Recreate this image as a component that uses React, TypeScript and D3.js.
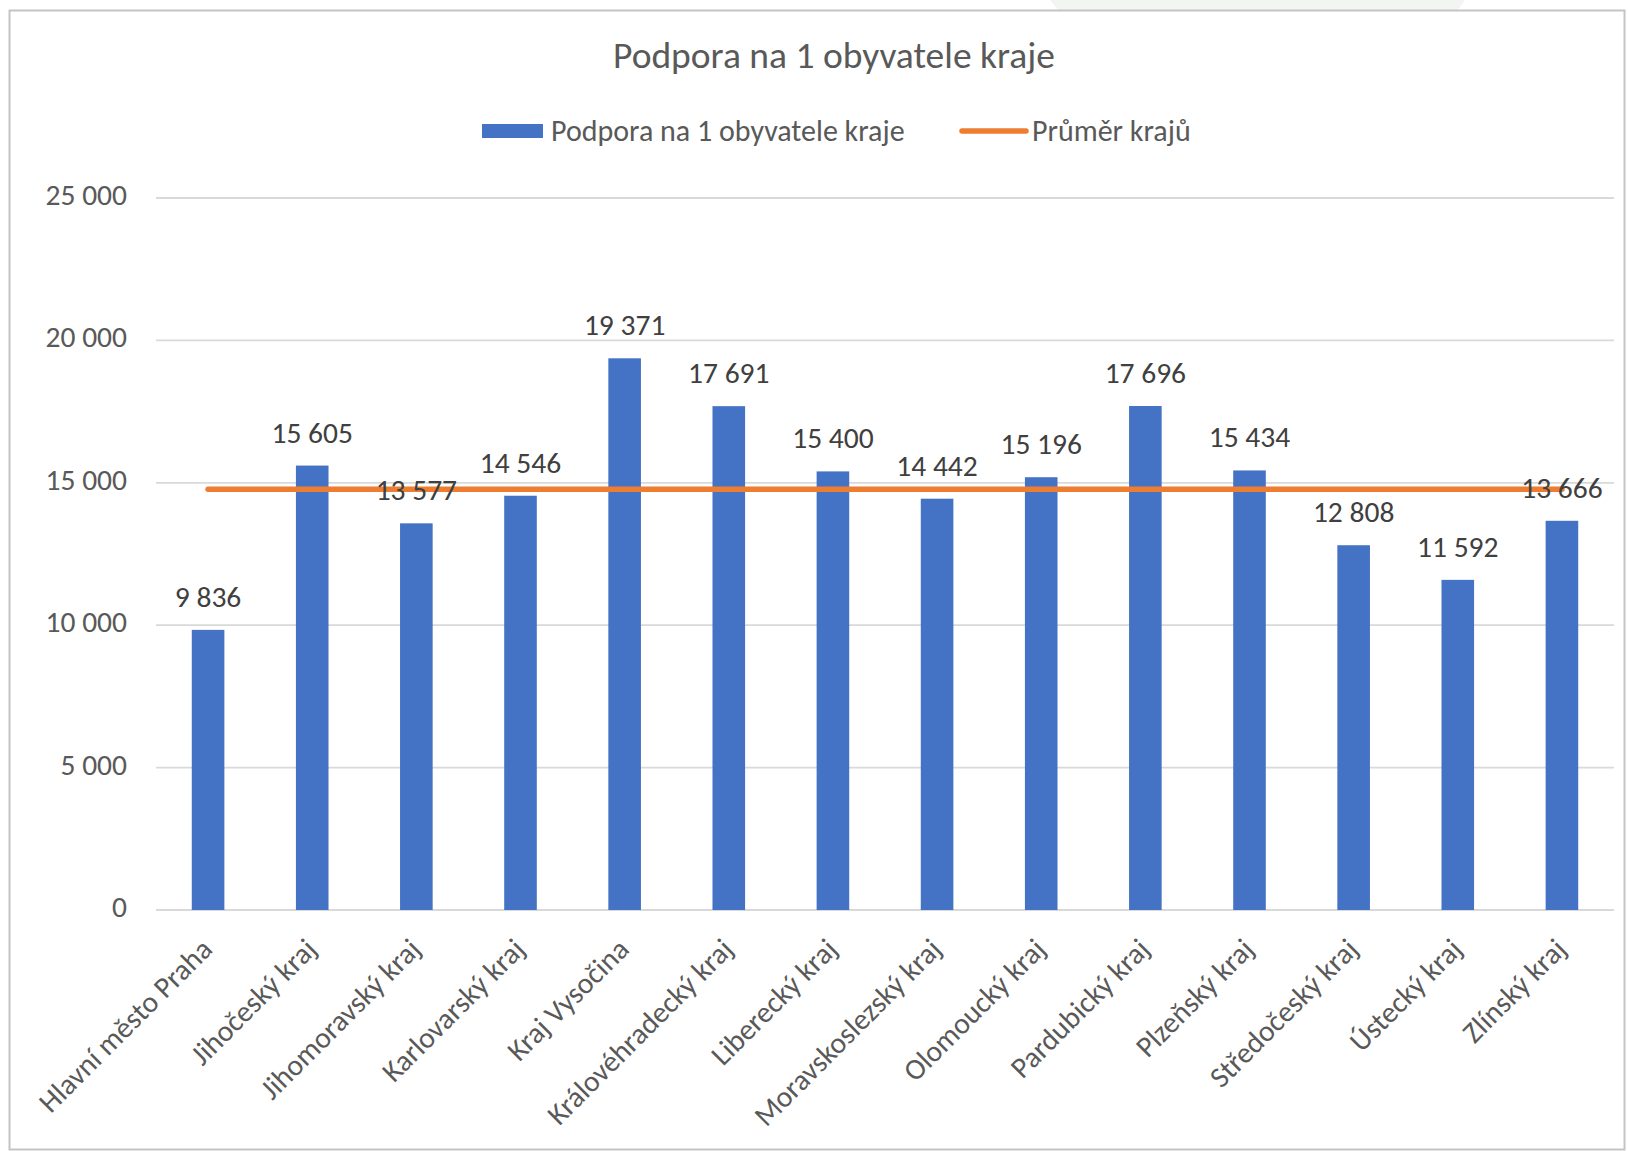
import React, { useEffect, useRef } from 'react';
import * as d3 from 'd3';

// Chart data
const categories = [
  'Hlavní město Praha',
  'Jihočeský kraj',
  'Jihomoravský kraj',
  'Karlovarský kraj',
  'Kraj Vysočina',
  'Královéhradecký kraj',
  'Liberecký kraj',
  'Moravskoslezský kraj',
  'Olomoucký kraj',
  'Pardubický kraj',
  'Plzeňský kraj',
  'Středočeský kraj',
  'Ústecký kraj',
  'Zlínský kraj'
];
const supportValues = [9836, 15605, 13577, 14546, 19371, 17691, 15400, 14442, 15196, 17696, 15434, 12808, 11592, 13666];
const averageValues = [14776, 14776, 14776, 14776, 14776, 14776, 14776, 14776, 14776, 14776, 14776, 14776, 14776, 14776];
const yTickValues = [0, 5000, 10000, 15000, 20000, 25000];

const seriesNames = ['Podpora na 1 obyvatele kraje', 'Průměr krajů'];
const titleText = 'Podpora na 1 obyvatele kraje';

const App = () => {
  const svgRef = useRef<SVGSVGElement>(null);

  useEffect(() => {
    document.body.style.margin = '0';
    const width = 1628;
    const height = 1151;
    const font = 'Carlito, Lato, sans-serif';
    const textColor = '#595959';
    const barColor = '#4472C4';
    const lineColor = '#ED7D31';

    const svg = d3.select(svgRef.current);
    svg.selectAll('*').remove();
    svg.attr('width', width).attr('height', height);

    const fmt = d3.formatLocale({ decimal: ',', thousands: ' ', grouping: [3], currency: ['', ''] }).format(',d');

    // faint page background shape above the chart frame
    svg.append('polygon')
      .attr('points', '1050,0 1465,0 1458,10 1058,10')
      .attr('fill', '#f2f5f2');

    // Chart frame
    svg.append('rect')
      .attr('x', 9.5)
      .attr('y', 10.5)
      .attr('width', 1615)
      .attr('height', 1139)
      .attr('fill', '#fff')
      .attr('stroke', '#c4c4c4')
      .attr('stroke-width', 2);

    // Scales
    const x = d3.scaleBand()
      .domain(categories)
      .range([156, 1614])
      .paddingInner(0.687)
      .paddingOuter(0.3435);

    const y = d3.scaleLinear()
      .domain([0, 25000])
      .range([910, 198]);

    // Gridlines
    svg.append('g')
      .selectAll('line')
      .data(yTickValues)
      .enter()
      .append('line')
      .attr('x1', 156)
      .attr('x2', 1614)
      .attr('y1', d => y(d))
      .attr('y2', d => y(d))
      .attr('stroke', '#d9d9d9')
      .attr('stroke-width', 1.8);

    // Y tick labels
    svg.append('g')
      .selectAll('text')
      .data(yTickValues)
      .enter()
      .append('text')
      .attr('x', 127)
      .attr('y', d => y(d) + 7)
      .attr('text-anchor', 'end')
      .attr('font-family', font)
      .attr('font-size', '29.5px')
      .attr('fill', textColor)
      .text(d => fmt(d));

    // Bars
    svg.append('g')
      .selectAll('rect')
      .data(supportValues)
      .enter()
      .append('rect')
      .attr('x', (d, i) => x(categories[i]) as number)
      .attr('width', x.bandwidth())
      .attr('y', d => y(d))
      .attr('height', d => y(0) - y(d))
      .attr('fill', barColor);

    // Average line
    const line = d3.line<number>()
      .x((d, i) => (x(categories[i]) as number) + x.bandwidth() / 2)
      .y(d => y(d));

    svg.append('path')
      .datum(averageValues)
      .attr('d', line)
      .attr('fill', 'none')
      .attr('stroke', lineColor)
      .attr('stroke-width', 5.5)
      .attr('stroke-linecap', 'round');

    // Data labels
    svg.append('g')
      .selectAll('text')
      .data(supportValues)
      .enter()
      .append('text')
      .attr('x', (d, i) => (x(categories[i]) as number) + x.bandwidth() / 2)
      .attr('y', d => y(d) - 23)
      .attr('text-anchor', 'middle')
      .attr('font-family', font)
      .attr('font-size', '29.5px')
      .attr('fill', '#404040')
      .text(d => fmt(d));

    // Category labels (rotated)
    svg.append('g')
      .selectAll('text')
      .data(categories)
      .enter()
      .append('text')
      .attr('transform', d => `translate(${(x(d) as number) + x.bandwidth() / 2 + 6},${951}) rotate(-45)`)
      .attr('text-anchor', 'end')
      .attr('font-family', font)
      .attr('font-size', '29.5px')
      .attr('fill', textColor)
      .text(d => d);

    // Title
    svg.append('text')
      .attr('x', 834)
      .attr('y', 68)
      .attr('text-anchor', 'middle')
      .attr('font-family', font)
      .attr('font-size', '37.5px')
      .attr('fill', textColor)
      .text(titleText);

    // Legend
    const legend = svg.append('g');
    legend.append('rect')
      .attr('x', 482)
      .attr('y', 124)
      .attr('width', 61)
      .attr('height', 14)
      .attr('fill', barColor);
    legend.append('text')
      .attr('x', 551)
      .attr('y', 141)
      .attr('font-family', font)
      .attr('font-size', '30px')
      .attr('fill', textColor)
      .text(seriesNames[0]);
    legend.append('line')
      .attr('x1', 962)
      .attr('x2', 1026)
      .attr('y1', 131)
      .attr('y2', 131)
      .attr('stroke', lineColor)
      .attr('stroke-width', 5.5)
      .attr('stroke-linecap', 'round');
    legend.append('text')
      .attr('x', 1032)
      .attr('y', 141)
      .attr('font-family', font)
      .attr('font-size', '30px')
      .attr('fill', textColor)
      .text(seriesNames[1]);
  }, []);

  return <svg ref={svgRef} style={{ display: 'block' }} />;
};

export default App;
